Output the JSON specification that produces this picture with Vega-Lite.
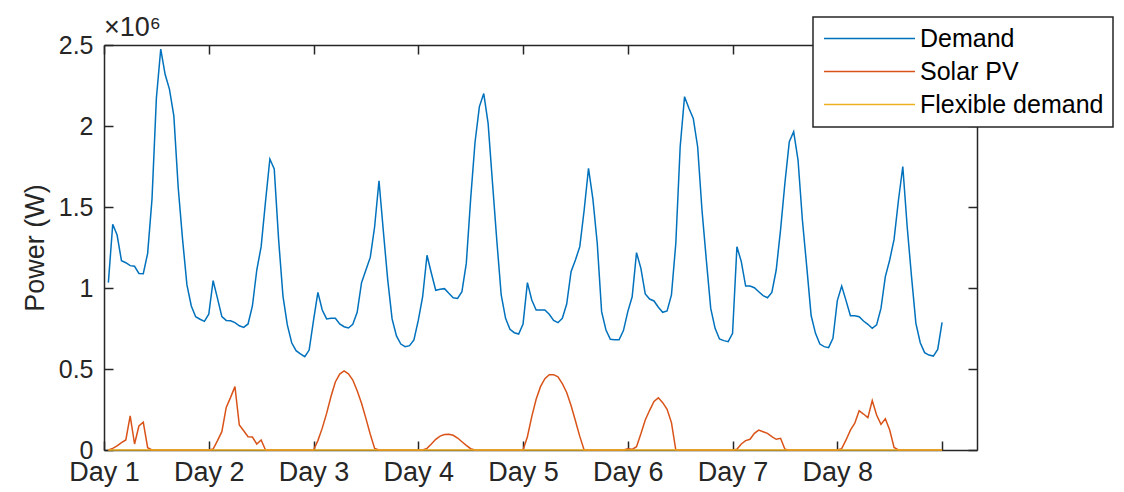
{
  "$schema": "https://vega.github.io/schema/vega-lite/v6.json",
  "width": 873,
  "height": 405,
  "autosize": {"type": "none"},
  "padding": {"left": 104, "top": 45, "right": 147, "bottom": 42},
  "background": "white",
  "title": {"text": "×10⁶", "anchor": "start", "frame": "group", "fontSize": 27, "font": "Liberation Sans", "fontWeight": "normal", "color": "#262626", "offset": -26},
  "data": {"values": [
    {"h":1,"Demand":1033000,"Solar PV":0,"Flexible demand":0},
    {"h":2,"Demand":1393000,"Solar PV":10000,"Flexible demand":0},
    {"h":3,"Demand":1327000,"Solar PV":25000,"Flexible demand":0},
    {"h":4,"Demand":1169000,"Solar PV":45000,"Flexible demand":0},
    {"h":5,"Demand":1156000,"Solar PV":62000,"Flexible demand":0},
    {"h":6,"Demand":1138000,"Solar PV":210000,"Flexible demand":0},
    {"h":7,"Demand":1134000,"Solar PV":37000,"Flexible demand":0},
    {"h":8,"Demand":1090000,"Solar PV":148000,"Flexible demand":0},
    {"h":9,"Demand":1088000,"Solar PV":171000,"Flexible demand":0},
    {"h":10,"Demand":1214000,"Solar PV":14000,"Flexible demand":0},
    {"h":11,"Demand":1550000,"Solar PV":0,"Flexible demand":0},
    {"h":12,"Demand":2171000,"Solar PV":0,"Flexible demand":0},
    {"h":13,"Demand":2475000,"Solar PV":0,"Flexible demand":0},
    {"h":14,"Demand":2319000,"Solar PV":0,"Flexible demand":0},
    {"h":15,"Demand":2226000,"Solar PV":0,"Flexible demand":0},
    {"h":16,"Demand":2062000,"Solar PV":0,"Flexible demand":0},
    {"h":17,"Demand":1620000,"Solar PV":0,"Flexible demand":0},
    {"h":18,"Demand":1300000,"Solar PV":0,"Flexible demand":0},
    {"h":19,"Demand":1019000,"Solar PV":0,"Flexible demand":0},
    {"h":20,"Demand":889000,"Solar PV":0,"Flexible demand":0},
    {"h":21,"Demand":823000,"Solar PV":0,"Flexible demand":0},
    {"h":22,"Demand":807000,"Solar PV":0,"Flexible demand":0},
    {"h":23,"Demand":794000,"Solar PV":0,"Flexible demand":0},
    {"h":24,"Demand":838000,"Solar PV":0,"Flexible demand":0},
    {"h":25,"Demand":1045000,"Solar PV":6000,"Flexible demand":0},
    {"h":26,"Demand":936000,"Solar PV":58000,"Flexible demand":0},
    {"h":27,"Demand":823000,"Solar PV":113000,"Flexible demand":0},
    {"h":28,"Demand":800000,"Solar PV":263000,"Flexible demand":0},
    {"h":29,"Demand":798000,"Solar PV":325000,"Flexible demand":0},
    {"h":30,"Demand":786000,"Solar PV":391000,"Flexible demand":0},
    {"h":31,"Demand":767000,"Solar PV":154000,"Flexible demand":0},
    {"h":32,"Demand":757000,"Solar PV":119000,"Flexible demand":0},
    {"h":33,"Demand":778000,"Solar PV":82000,"Flexible demand":0},
    {"h":34,"Demand":889000,"Solar PV":80000,"Flexible demand":0},
    {"h":35,"Demand":1111000,"Solar PV":37000,"Flexible demand":0},
    {"h":36,"Demand":1255000,"Solar PV":62000,"Flexible demand":0},
    {"h":37,"Demand":1533000,"Solar PV":0,"Flexible demand":0},
    {"h":38,"Demand":1796000,"Solar PV":0,"Flexible demand":0},
    {"h":39,"Demand":1735000,"Solar PV":0,"Flexible demand":0},
    {"h":40,"Demand":1300000,"Solar PV":0,"Flexible demand":0},
    {"h":41,"Demand":950000,"Solar PV":0,"Flexible demand":0},
    {"h":42,"Demand":772000,"Solar PV":0,"Flexible demand":0},
    {"h":43,"Demand":662000,"Solar PV":0,"Flexible demand":0},
    {"h":44,"Demand":613000,"Solar PV":0,"Flexible demand":0},
    {"h":45,"Demand":593000,"Solar PV":0,"Flexible demand":0},
    {"h":46,"Demand":576000,"Solar PV":0,"Flexible demand":0},
    {"h":47,"Demand":617000,"Solar PV":0,"Flexible demand":0},
    {"h":48,"Demand":800000,"Solar PV":0,"Flexible demand":0},
    {"h":49,"Demand":973000,"Solar PV":58000,"Flexible demand":0},
    {"h":50,"Demand":864000,"Solar PV":135000,"Flexible demand":0},
    {"h":51,"Demand":809000,"Solar PV":226000,"Flexible demand":0},
    {"h":52,"Demand":813000,"Solar PV":330000,"Flexible demand":0},
    {"h":53,"Demand":813000,"Solar PV":420000,"Flexible demand":0},
    {"h":54,"Demand":778000,"Solar PV":469000,"Flexible demand":0},
    {"h":55,"Demand":761000,"Solar PV":488000,"Flexible demand":0},
    {"h":56,"Demand":753000,"Solar PV":470000,"Flexible demand":0},
    {"h":57,"Demand":776000,"Solar PV":432000,"Flexible demand":0},
    {"h":58,"Demand":850000,"Solar PV":366000,"Flexible demand":0},
    {"h":59,"Demand":1033000,"Solar PV":288000,"Flexible demand":0},
    {"h":60,"Demand":1111000,"Solar PV":195000,"Flexible demand":0},
    {"h":61,"Demand":1189000,"Solar PV":97000,"Flexible demand":0},
    {"h":62,"Demand":1378000,"Solar PV":10000,"Flexible demand":0},
    {"h":63,"Demand":1662000,"Solar PV":0,"Flexible demand":0},
    {"h":64,"Demand":1350000,"Solar PV":0,"Flexible demand":0},
    {"h":65,"Demand":1050000,"Solar PV":0,"Flexible demand":0},
    {"h":66,"Demand":809000,"Solar PV":0,"Flexible demand":0},
    {"h":67,"Demand":704000,"Solar PV":0,"Flexible demand":0},
    {"h":68,"Demand":654000,"Solar PV":0,"Flexible demand":0},
    {"h":69,"Demand":638000,"Solar PV":0,"Flexible demand":0},
    {"h":70,"Demand":644000,"Solar PV":0,"Flexible demand":0},
    {"h":71,"Demand":679000,"Solar PV":0,"Flexible demand":0},
    {"h":72,"Demand":800000,"Solar PV":0,"Flexible demand":0},
    {"h":73,"Demand":946000,"Solar PV":0,"Flexible demand":0},
    {"h":74,"Demand":1202000,"Solar PV":10000,"Flexible demand":0},
    {"h":75,"Demand":1091000,"Solar PV":37000,"Flexible demand":0},
    {"h":76,"Demand":986000,"Solar PV":66000,"Flexible demand":0},
    {"h":77,"Demand":992000,"Solar PV":86000,"Flexible demand":0},
    {"h":78,"Demand":996000,"Solar PV":95000,"Flexible demand":0},
    {"h":79,"Demand":967000,"Solar PV":97000,"Flexible demand":0},
    {"h":80,"Demand":940000,"Solar PV":91000,"Flexible demand":0},
    {"h":81,"Demand":936000,"Solar PV":74000,"Flexible demand":0},
    {"h":82,"Demand":977000,"Solar PV":51000,"Flexible demand":0},
    {"h":83,"Demand":1152000,"Solar PV":29000,"Flexible demand":0},
    {"h":84,"Demand":1550000,"Solar PV":8000,"Flexible demand":0},
    {"h":85,"Demand":1900000,"Solar PV":0,"Flexible demand":0},
    {"h":86,"Demand":2120000,"Solar PV":0,"Flexible demand":0},
    {"h":87,"Demand":2200000,"Solar PV":0,"Flexible demand":0},
    {"h":88,"Demand":2016000,"Solar PV":0,"Flexible demand":0},
    {"h":89,"Demand":1650000,"Solar PV":0,"Flexible demand":0},
    {"h":90,"Demand":1290000,"Solar PV":0,"Flexible demand":0},
    {"h":91,"Demand":957000,"Solar PV":0,"Flexible demand":0},
    {"h":92,"Demand":813000,"Solar PV":0,"Flexible demand":0},
    {"h":93,"Demand":745000,"Solar PV":0,"Flexible demand":0},
    {"h":94,"Demand":724000,"Solar PV":0,"Flexible demand":0},
    {"h":95,"Demand":716000,"Solar PV":0,"Flexible demand":0},
    {"h":96,"Demand":778000,"Solar PV":0,"Flexible demand":0},
    {"h":97,"Demand":1033000,"Solar PV":82000,"Flexible demand":0},
    {"h":98,"Demand":926000,"Solar PV":206000,"Flexible demand":0},
    {"h":99,"Demand":864000,"Solar PV":313000,"Flexible demand":0},
    {"h":100,"Demand":864000,"Solar PV":391000,"Flexible demand":0},
    {"h":101,"Demand":864000,"Solar PV":440000,"Flexible demand":0},
    {"h":102,"Demand":838000,"Solar PV":465000,"Flexible demand":0},
    {"h":103,"Demand":800000,"Solar PV":465000,"Flexible demand":0},
    {"h":104,"Demand":786000,"Solar PV":452000,"Flexible demand":0},
    {"h":105,"Demand":813000,"Solar PV":410000,"Flexible demand":0},
    {"h":106,"Demand":901000,"Solar PV":355000,"Flexible demand":0},
    {"h":107,"Demand":1101000,"Solar PV":275000,"Flexible demand":0},
    {"h":108,"Demand":1173000,"Solar PV":181000,"Flexible demand":0},
    {"h":109,"Demand":1255000,"Solar PV":84000,"Flexible demand":0},
    {"h":110,"Demand":1480000,"Solar PV":0,"Flexible demand":0},
    {"h":111,"Demand":1739000,"Solar PV":0,"Flexible demand":0},
    {"h":112,"Demand":1550000,"Solar PV":0,"Flexible demand":0},
    {"h":113,"Demand":1276000,"Solar PV":0,"Flexible demand":0},
    {"h":114,"Demand":854000,"Solar PV":0,"Flexible demand":0},
    {"h":115,"Demand":741000,"Solar PV":0,"Flexible demand":0},
    {"h":116,"Demand":683000,"Solar PV":0,"Flexible demand":0},
    {"h":117,"Demand":680000,"Solar PV":0,"Flexible demand":0},
    {"h":118,"Demand":680000,"Solar PV":0,"Flexible demand":0},
    {"h":119,"Demand":737000,"Solar PV":0,"Flexible demand":0},
    {"h":120,"Demand":854000,"Solar PV":8000,"Flexible demand":0},
    {"h":121,"Demand":946000,"Solar PV":4000,"Flexible demand":0},
    {"h":122,"Demand":1218000,"Solar PV":20000,"Flexible demand":0},
    {"h":123,"Demand":1121000,"Solar PV":100000,"Flexible demand":0},
    {"h":124,"Demand":963000,"Solar PV":185000,"Flexible demand":0},
    {"h":125,"Demand":932000,"Solar PV":245000,"Flexible demand":0},
    {"h":126,"Demand":920000,"Solar PV":300000,"Flexible demand":0},
    {"h":127,"Demand":881000,"Solar PV":322000,"Flexible demand":0},
    {"h":128,"Demand":850000,"Solar PV":292000,"Flexible demand":0},
    {"h":129,"Demand":858000,"Solar PV":251000,"Flexible demand":0},
    {"h":130,"Demand":957000,"Solar PV":169000,"Flexible demand":0},
    {"h":131,"Demand":1276000,"Solar PV":0,"Flexible demand":0},
    {"h":132,"Demand":1872000,"Solar PV":0,"Flexible demand":0},
    {"h":133,"Demand":2181000,"Solar PV":0,"Flexible demand":0},
    {"h":134,"Demand":2109000,"Solar PV":0,"Flexible demand":0},
    {"h":135,"Demand":2047000,"Solar PV":0,"Flexible demand":0},
    {"h":136,"Demand":1872000,"Solar PV":0,"Flexible demand":0},
    {"h":137,"Demand":1480000,"Solar PV":0,"Flexible demand":0},
    {"h":138,"Demand":1170000,"Solar PV":0,"Flexible demand":0},
    {"h":139,"Demand":874000,"Solar PV":0,"Flexible demand":0},
    {"h":140,"Demand":751000,"Solar PV":0,"Flexible demand":0},
    {"h":141,"Demand":685000,"Solar PV":0,"Flexible demand":0},
    {"h":142,"Demand":675000,"Solar PV":0,"Flexible demand":0},
    {"h":143,"Demand":669000,"Solar PV":0,"Flexible demand":0},
    {"h":144,"Demand":720000,"Solar PV":0,"Flexible demand":0},
    {"h":145,"Demand":1255000,"Solar PV":5000,"Flexible demand":0},
    {"h":146,"Demand":1163000,"Solar PV":37000,"Flexible demand":0},
    {"h":147,"Demand":1012000,"Solar PV":58000,"Flexible demand":0},
    {"h":148,"Demand":1012000,"Solar PV":66000,"Flexible demand":0},
    {"h":149,"Demand":1002000,"Solar PV":103000,"Flexible demand":0},
    {"h":150,"Demand":977000,"Solar PV":123000,"Flexible demand":0},
    {"h":151,"Demand":953000,"Solar PV":113000,"Flexible demand":0},
    {"h":152,"Demand":940000,"Solar PV":103000,"Flexible demand":0},
    {"h":153,"Demand":973000,"Solar PV":82000,"Flexible demand":0},
    {"h":154,"Demand":1111000,"Solar PV":66000,"Flexible demand":0},
    {"h":155,"Demand":1360000,"Solar PV":72000,"Flexible demand":0},
    {"h":156,"Demand":1650000,"Solar PV":4000,"Flexible demand":0},
    {"h":157,"Demand":1903000,"Solar PV":0,"Flexible demand":0},
    {"h":158,"Demand":1965000,"Solar PV":0,"Flexible demand":0},
    {"h":159,"Demand":1790000,"Solar PV":0,"Flexible demand":0},
    {"h":160,"Demand":1420000,"Solar PV":0,"Flexible demand":0},
    {"h":161,"Demand":1130000,"Solar PV":0,"Flexible demand":0},
    {"h":162,"Demand":830000,"Solar PV":0,"Flexible demand":0},
    {"h":163,"Demand":720000,"Solar PV":0,"Flexible demand":0},
    {"h":164,"Demand":654000,"Solar PV":0,"Flexible demand":0},
    {"h":165,"Demand":638000,"Solar PV":0,"Flexible demand":0},
    {"h":166,"Demand":632000,"Solar PV":0,"Flexible demand":0},
    {"h":167,"Demand":689000,"Solar PV":0,"Flexible demand":0},
    {"h":168,"Demand":922000,"Solar PV":0,"Flexible demand":0},
    {"h":169,"Demand":1012000,"Solar PV":8000,"Flexible demand":0},
    {"h":170,"Demand":922000,"Solar PV":62000,"Flexible demand":0},
    {"h":171,"Demand":829000,"Solar PV":123000,"Flexible demand":0},
    {"h":172,"Demand":829000,"Solar PV":165000,"Flexible demand":0},
    {"h":173,"Demand":823000,"Solar PV":243000,"Flexible demand":0},
    {"h":174,"Demand":796000,"Solar PV":222000,"Flexible demand":0},
    {"h":175,"Demand":776000,"Solar PV":200000,"Flexible demand":0},
    {"h":176,"Demand":751000,"Solar PV":305000,"Flexible demand":0},
    {"h":177,"Demand":772000,"Solar PV":216000,"Flexible demand":0},
    {"h":178,"Demand":874000,"Solar PV":158000,"Flexible demand":0},
    {"h":179,"Demand":1070000,"Solar PV":193000,"Flexible demand":0},
    {"h":180,"Demand":1173000,"Solar PV":123000,"Flexible demand":0},
    {"h":181,"Demand":1300000,"Solar PV":16000,"Flexible demand":0},
    {"h":182,"Demand":1540000,"Solar PV":0,"Flexible demand":0},
    {"h":183,"Demand":1750000,"Solar PV":0,"Flexible demand":0},
    {"h":184,"Demand":1380000,"Solar PV":0,"Flexible demand":0},
    {"h":185,"Demand":1070000,"Solar PV":0,"Flexible demand":0},
    {"h":186,"Demand":782000,"Solar PV":0,"Flexible demand":0},
    {"h":187,"Demand":662000,"Solar PV":0,"Flexible demand":0},
    {"h":188,"Demand":601000,"Solar PV":0,"Flexible demand":0},
    {"h":189,"Demand":586000,"Solar PV":0,"Flexible demand":0},
    {"h":190,"Demand":580000,"Solar PV":0,"Flexible demand":0},
    {"h":191,"Demand":621000,"Solar PV":0,"Flexible demand":0},
    {"h":192,"Demand":788000,"Solar PV":0,"Flexible demand":0}
  ]},
  "transform": [{"fold": ["Demand", "Solar PV", "Flexible demand"], "as": ["series", "power"]}],
  "encoding": {
    "color": {
      "field": "series", "type": "nominal",
      "scale": {"domain": ["Demand", "Solar PV", "Flexible demand"], "range": ["#0072BD", "#D95319", "#EDB120"]},
      "legend": {"title": null}
    }
  },
  "layer": [
    {
      "transform": [{"filter": "datum.series != 'Flexible demand'"}],
      "mark": {"type": "line", "strokeWidth": 1.5},
      "encoding": {
        "x": {"field": "h", "type": "quantitative", "scale": {"domain": [0, 200], "nice": false, "zero": false},
          "axis": {"orient": "bottom", "title": null, "values": [0, 24, 48, 72, 96, 120, 144, 168, 192],
            "labelExpr": "datum.value < 192 ? 'Day ' + (datum.value / 24 + 1) : ''", "tickSize": -9, "labelPadding": 18,
            "labelFlush": false, "labelOverlap": false, "labelFontSize": 27}},
        "y": {"field": "power", "type": "quantitative", "scale": {"domain": [0, 2500000], "nice": false},
          "axis": {"orient": "left", "title": "Power (W)", "titleFontSize": 27, "titleFontWeight": "normal", "titlePadding": 9,
            "values": [0, 500000, 1000000, 1500000, 2000000, 2500000], "labelFlush": false, "labelOverlap": false,
            "labelExpr": "'' + datum.value / 1000000", "tickSize": -9, "labelPadding": 20}}
      }
    },
    {
      "transform": [{"filter": "datum.series == 'Flexible demand'"}],
      "mark": {"type": "line", "strokeWidth": 1.5},
      "encoding": {
        "x": {"field": "h", "type": "quantitative",
          "axis": {"orient": "top", "title": null, "labels": false, "values": [0, 24, 48, 72, 96, 120, 144, 168, 192], "tickSize": -9}},
        "y": {"field": "power", "type": "quantitative",
          "axis": {"orient": "right", "title": null, "labels": false, "values": [0, 500000, 1000000, 1500000, 2000000, 2500000], "tickSize": -9}}
      }
    }
  ],
  "resolve": {"axis": {"x": "independent", "y": "independent"}},
  "config": {
    "view": {"stroke": null},
    "font": "Liberation Sans",
    "axis": {"grid": false, "domainColor": "#262626", "tickColor": "#262626", "labelColor": "#262626", "titleColor": "#262626",
      "labelFont": "Liberation Sans", "titleFont": "Liberation Sans", "labelFontSize": 25, "domainWidth": 1.5, "tickWidth": 1.5},
    "legend": {"orient": "none", "legendX": 709, "legendY": -28, "strokeColor": "#262626", "strokeWidth": 1.5, "fillColor": "white",
      "padding": 9, "labelFontSize": 25, "labelFont": "Liberation Sans", "labelColor": "#000000", "labelLimit": 400,
      "symbolType": "M-9.1,0H9.1", "symbolSize": 100, "symbolStrokeWidth": 1.5, "rowPadding": 7,
      "symbolOffset": 35, "labelOffset": 38, "cornerRadius": 0}
  }
}
